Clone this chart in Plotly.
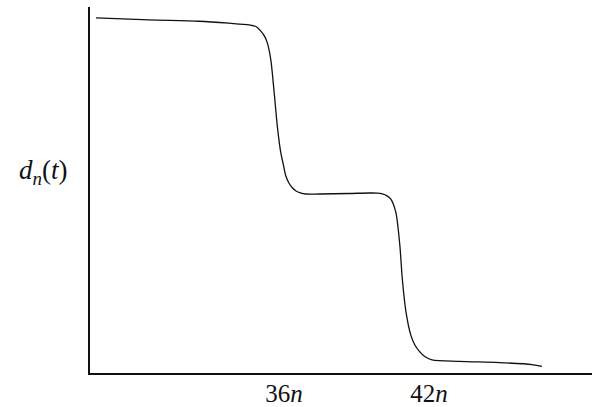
import plotly.graph_objects as go

# Curve d_n(t) (x in units of n, y in % of axis height)
t_values = [28.22, 30.41, 32.48, 33.72, 34.55, 34.85, 35.04, 35.20, 35.31, 35.45,
            35.59, 35.72, 35.86, 35.97, 36.07, 36.20, 36.34, 36.48, 36.68, 36.90,
            37.45, 38.69, 39.52, 39.85, 40.07, 40.26, 40.41, 40.62, 40.79, 40.89,
            41.04, 41.24, 41.40, 41.59, 41.82, 42.12, 43.24, 44.90, 46.26, 46.67]
d_values = [97.01, 96.47, 96.11, 95.57, 95.11, 94.60, 93.40, 91.90, 90.14, 85.60,
            76.63, 67.47, 60.33, 56.90, 53.89, 51.90, 50.60, 49.81, 49.20, 48.91,
            48.91, 49.05, 49.18, 49.15, 48.91, 48.40, 47.55, 44.02, 34.86, 25.82,
            16.85, 10.41, 7.80, 5.98, 4.50, 3.61, 3.18, 2.85, 2.31, 1.82]

tick_vals = [36, 42]
tick_text = ["36<i>n</i>", "42<i>n</i>"]

fig = go.Figure()
fig.add_trace(go.Scatter(
    x=t_values, y=d_values, mode="lines",
    line=dict(color="#111111", width=1.3, shape="spline", smoothing=0.8),
    hoverinfo="skip", showlegend=False,
))

fig.update_layout(
    width=592, height=407,
    margin=dict(l=90, r=0, t=7, b=32),
    paper_bgcolor="white", plot_bgcolor="white",
    font=dict(family="Liberation Serif, DejaVu Serif, serif", color="#111111", size=24),
    xaxis=dict(
        range=[27.97, 48.74], showgrid=False, zeroline=False,
        showline=True, linecolor="#111111", linewidth=1.5,
        tickvals=tick_vals, ticktext=tick_text, ticks="",
        tickfont=dict(size=25), ticklabelstandoff=-3, fixedrange=True,
    ),
    yaxis=dict(
        range=[0, 100], showgrid=False, zeroline=False,
        showline=True, linecolor="#111111", linewidth=1.5,
        showticklabels=False, ticks="", fixedrange=True,
    ),
    annotations=[dict(
        text="<i>d</i><sub><i>n</i></sub>(<i>t</i>)",
        xref="paper", yref="paper", x=-0.093, y=0.55,
        xanchor="center", yanchor="middle", showarrow=False,
        font=dict(size=27),
    )],
)

fig.write_html("out.html", config={"displayModeBar": False},
               post_script="document.body.style.margin='0';")
